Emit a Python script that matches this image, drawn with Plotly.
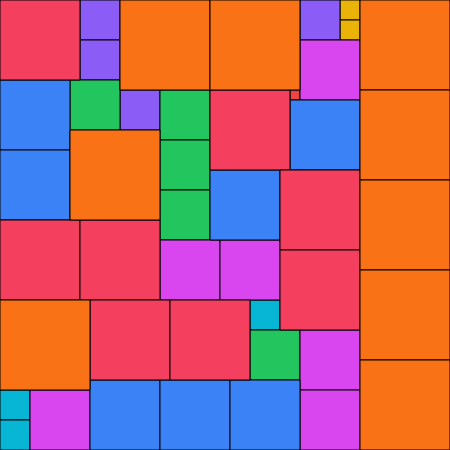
import plotly.graph_objects as go

# Square packing: n squares of side n (n = 1..9) tiling a 45 x 45 square
sizes = [1, 2, 2, 3, 3, 3, 4, 4, 4, 4, 5, 5, 5, 5, 5,
         6, 6, 6, 6, 6, 6, 7, 7, 7, 7, 7, 7, 7,
         8, 8, 8, 8, 8, 8, 8, 8,
         9, 9, 9, 9, 9, 9, 9, 9, 9]
x0 = [29, 34, 34, 25, 0, 0, 8, 8, 12, 30, 7, 16, 16, 16, 25,
      30, 16, 22, 30, 30, 3, 0, 0, 29, 21, 9, 16, 23,
      0, 21, 28, 28, 0, 8, 9, 17,
      12, 21, 36, 36, 36, 36, 36, 7, 0]
y0 = [9, 0, 2, 30, 39, 42, 0, 4, 9, 0, 8, 9, 14, 19, 33,
      4, 24, 24, 33, 39, 39, 8, 15, 10, 17, 38, 38, 38,
      0, 9, 17, 25, 22, 22, 30, 30,
      0, 0, 0, 9, 18, 27, 36, 13, 30]

palette = {1: "#EF4444", 2: "#EAB308", 3: "#06B6D4", 4: "#8B5CF6", 5: "#22C55E",
           6: "#D946EF", 7: "#3B82F6", 8: "#F43F5E", 9: "#F97316"}

fig = go.Figure()
for s, x, y in zip(sizes, x0, y0):
    fig.add_trace(go.Scatter(
        x=[x, x + s, x + s, x, x],
        y=[y, y, y + s, y + s, y],
        mode="lines", fill="toself", fillcolor=palette[s],
        line=dict(color="black", width=1),
        hoverinfo="skip", showlegend=False,
    ))

fig.update_xaxes(range=[0, 45], visible=False, fixedrange=True)
fig.update_yaxes(range=[45, 0], visible=False, fixedrange=True)
fig.update_layout(width=450, height=450, margin=dict(l=0, r=0, t=0, b=0),
                  plot_bgcolor="white", paper_bgcolor="white")
fig.write_html("out.html", config={"displayModeBar": False},
               post_script="document.body.style.margin='0';document.body.style.overflow='hidden';")
